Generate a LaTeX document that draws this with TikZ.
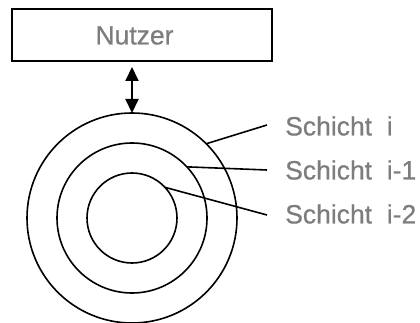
\documentclass[tikz,border=0pt]{standalone}
\usepackage{fontspec}
\setmainfont{Liberation Sans}
\newfontfamily\labelfont[FakeBold=0.6]{Liberation Sans}
\usetikzlibrary{arrows.meta}
\definecolor{labelgray}{RGB}{125,125,125}
\begin{document}
\begin{tikzpicture}[x=1pt,y=-1pt,
  ring/.style={draw,circle,line width=1.6pt,inner sep=0pt,outer sep=0pt},
  leader/.style={line width=1.6pt},
  layertext/.style={text=labelgray,font=\labelfont\fontsize{26.5}{30}\selectfont,inner sep=0pt,anchor=west},
  userbox/.style={draw,line width=2pt,minimum width=260pt,minimum height=52pt,inner sep=0pt},
  headtip/.tip={Triangle[length=14pt,width=13pt]}]
\useasboundingbox (0,0) rectangle (420,323);

% user box on top
\node[userbox] (user) at (142,35) {};
\node[layertext,anchor=center] (usertext) at (134.5,35.5) {Nutzer};

% concentric layers
\node[ring,minimum size=210pt] (outer) at (132,218) {};
\node[ring,minimum size=150pt] (middle) at (132,218) {};
\node[ring,minimum size=90pt] (inner) at (132,218) {};

% interaction between user and outermost layer
\coordinate (atop) at (132,67);
\draw[line width=2pt,headtip-headtip] (atop) -- (outer.north);

% layer labels
\node[layertext] (li) at (285,126) {Schicht\ \ i};
\node[layertext] (li1) at (285,170) {Schicht\ \ i-1};
\node[layertext] (li2) at (285,214) {Schicht\ \ i-2};

\coordinate (ei) at (267,125);
\coordinate (ei1) at (267,170);
\coordinate (ei2) at (267,215);

\draw[leader] (outer.45) -- (ei);
\draw[leader] (middle.43) -- (ei1);
\draw[leader] (inner.43) -- (ei2);
\end{tikzpicture}
\end{document}
